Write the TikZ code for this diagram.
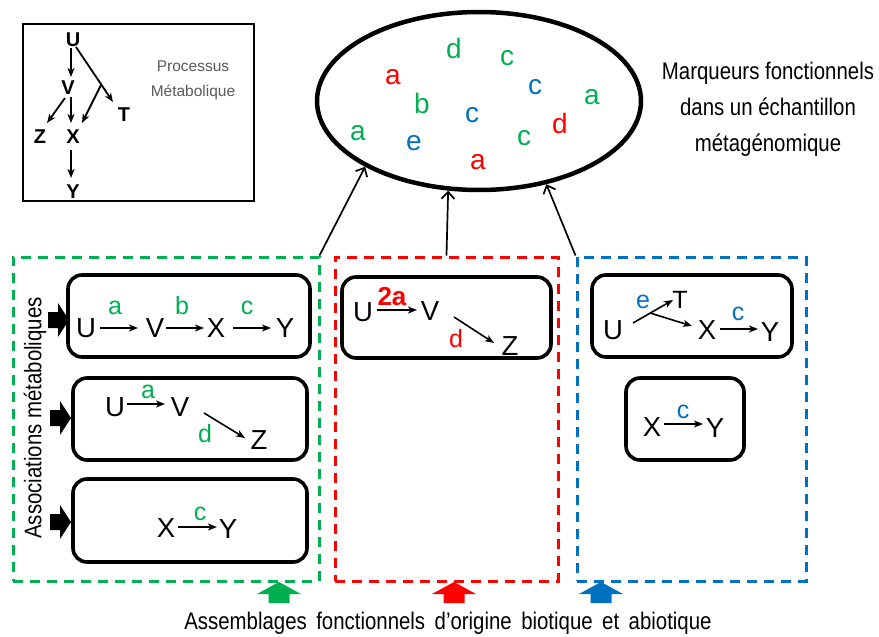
\documentclass[tikz,border=0pt]{standalone}
\usepackage{fontspec}
\setmainfont{Liberation Sans}
\newfontfamily\narrow[FakeStretch=0.85]{Liberation Sans}
\usetikzlibrary{arrows.meta,calc,shapes.geometric}
\definecolor{mgreen}{RGB}{0,176,80}
\definecolor{mred}{RGB}{255,0,0}
\definecolor{mblue}{RGB}{0,112,192}
\begin{document}
\begin{tikzpicture}[x=1pt,y=-1pt,
 lt/.style={font=\fontsize{27.5}{30}\selectfont, inner sep=0pt},
 lb/.style={font=\fontsize{25}{27}\selectfont, inner sep=0pt},
 ml/.style={font=\fontsize{28}{30}\selectfont, inner sep=0pt},
 sg/.style={font=\bfseries\fontsize{20}{22}\selectfont, inner sep=0pt},
 arr/.style={line width=1.6pt, -{Stealth[length=9pt,width=7pt,inset=2.5pt]}},
 sarr/.style={line width=1.8pt, -{Stealth[length=9pt,width=7pt,inset=2.5pt]}},
 barb/.style={line width=1.7pt, -{Straight Barb[length=7pt,width=13pt]}},
 rbox/.style={draw, line width=3.6pt, rounded corners=14pt, inner sep=0pt},
 dbox/.style={line width=3pt, dash pattern=on 10pt off 7pt, inner sep=0pt},
]
\useasboundingbox (0,0) rectangle (879,637);

% ---- metabolic process inset
\node[draw, line width=1.8pt, minimum width=231pt, minimum height=177pt, inner sep=0pt] (pbox) at (138.5,112.5) {};
\node[sg] (sU) at (73,40) {U};
\node[sg] (sV) at (68,88) {V};
\node[sg] (sZ) at (40,137) {Z};
\node[sg] (sX) at (73,137) {X};
\node[sg] (sT) at (124,115) {T};
\node[sg] (sY) at (73,192) {Y};
\coordinate (sB) at (101,85);
\draw[sarr] ([shift={(-2,8)}]sU.center) -- ([shift={(3,-11)}]sV.center);
\draw[sarr] ([shift={(3,7)}]sU.center) -- ([shift={(-11,-13)}]sT.center);
\draw[sarr] (sB) -- ([shift={(9,-14)}]sX.center);
\draw[sarr] ([shift={(-3,10)}]sV.center) -- ([shift={(7,-14)}]sZ.center);
\draw[sarr] ([shift={(3,9)}]sV.center) -- ([shift={(-2,-14)}]sX.center);
\draw[sarr] ([shift={(-2,13)}]sX.center) -- ([shift={(-2,-14)}]sY.center);
\node[font=\fontsize{15.5}{25}\selectfont, text=black!65, align=center] (proc) at (193,80.5) {Processus\\Métabolique};

% ---- sample ellipse
\node[draw, ellipse, line width=4.5pt, minimum width=324pt, minimum height=178pt, inner sep=0pt] (ell) at (479,101) {};
\node[ml, text=mgreen] (e1) at (454,48) {d};
\node[ml, text=mgreen] (e2) at (507,58) {c};
\node[ml, text=mred] (e3) at (393,77) {a};
\node[ml, text=mblue] (e4) at (535,87) {c};
\node[ml, text=mgreen] (e5) at (592,97) {a};
\node[ml, text=mgreen] (e6) at (422,103) {b};
\node[ml, text=mblue] (e7) at (472,115) {c};
\node[ml, text=mred] (e8) at (560,123) {d};
\node[ml, text=mgreen] (e9) at (358,133) {a};
\node[ml, text=mblue] (e10) at (414,143) {e};
\node[ml, text=mgreen] (e11) at (524,138) {c};
\node[ml, text=mred] (e12) at (478,162) {a};
\node[font=\narrow\fontsize{24}{36}\selectfont, align=center, inner sep=0pt] (mq) at (768,109) {Marqueurs fonctionnels\\dans un échantillon\\métagénomique};

% ---- dashed assemblages
\node[draw=mgreen, dbox, minimum width=306pt, minimum height=324pt] (gbox) at (166,419) {};
\node[draw=mred, dbox, minimum width=223pt, minimum height=324pt] (rbx) at (446.5,419) {};
\node[draw=mblue, dbox, minimum width=229pt, minimum height=324pt] (bbx) at (691.5,419) {};

\draw[barb] ([xshift=-1pt]gbox.north east) -- (ell.210);
\draw[barb] (rbx.north) -- (ell.251);
\draw[barb] (bbx.north west) -- (ell.309);

% ---- green associations
\node[rbox, minimum width=242pt, minimum height=82pt] (g1) at (189,316) {};
\node[rbox, minimum width=234pt, minimum height=82pt] (g2) at (190,419) {};
\node[rbox, minimum width=234pt, minimum height=83pt] (g3) at (190,520.5) {};

\node[lt] (g1U) at (86,328) {U};
\node[lt] (g1V) at (155,328) {V};
\node[lt] (g1X) at (216,328) {X};
\node[lt] (g1Y) at (285,328) {Y};
\node[lb, text=mgreen] (g1a) at (115,308) {a};
\node[lb, text=mgreen] (g1b) at (182,306) {b};
\node[lb, text=mgreen] (g1c) at (247,308) {c};
\draw[arr] ([xshift=14pt]g1U.center) -- ([xshift=-17pt]g1V.center);
\draw[arr] ([xshift=11pt]g1V.center) -- ([xshift=-12pt]g1X.center);
\draw[arr] ([xshift=17pt]g1X.center) -- ([xshift=-14pt]g1Y.center);

\node[lt] (g2U) at (115,407) {U};
\node[lt] (g2V) at (180,407) {V};
\node[lt] (g2Z) at (259,440) {Z};
\node[lb, text=mgreen] (g2a) at (148,392) {a};
\node[lb, text=mgreen] (g2d) at (205,434) {d};
\draw[arr] ([shift={(12,-3)}]g2U.center) -- ([shift={(-15,-3)}]g2V.center);
\draw[arr] ([shift={(24,6)}]g2V.center) -- ([shift={(-14,-2)}]g2Z.center);

\node[lt] (g3X) at (166,528) {X};
\node[lt] (g3Y) at (228,529) {Y};
\node[lb, text=mgreen] (g3c) at (200,514) {c};
\draw[arr] ([shift={(12,-1)}]g3X.center) -- ([shift={(-11,-2)}]g3Y.center);

\fill (48,312) -- (58,312) -- (58,303) -- (69,320) -- (58,337) -- (58,328) -- (48,328) -- cycle;
\fill (50,410) -- (60,410) -- (60,401) -- (71,418) -- (60,435) -- (60,426) -- (50,426) -- cycle;
\fill (50,514) -- (60,514) -- (60,505) -- (71,522) -- (60,539) -- (60,530) -- (50,530) -- cycle;
\node[rotate=90, font=\narrow\fontsize{24}{26}\selectfont, inner sep=0pt] (assoc) at (35,418) {Associations métaboliques};

% ---- red association
\node[rbox, minimum width=209pt, minimum height=81pt] (r1) at (446.5,317.5) {};
\node[lt] (rU) at (363,312) {U};
\node[lt] (rV) at (430,311) {V};
\node[lt] (rZ) at (510,346) {Z};
\node[lb, text=mred, font=\bfseries\fontsize{26}{28}\selectfont] (r2a) at (392,297) {2a};
\node[lb, text=mred] (rd) at (456,339) {d};
\draw[arr] ([shift={(14,-2)}]rU.center) -- ([shift={(-13,-1)}]rV.center);
\draw[arr] ([shift={(24,6)}]rV.center) -- ([shift={(-16,-3)}]rZ.center);

% ---- blue associations
\node[rbox, minimum width=200pt, minimum height=82pt] (b1) at (692,316) {};
\node[rbox, minimum width=118pt, minimum height=82pt] (b2) at (685,419) {};
\node[lt] (bU) at (613,330) {U};
\node[lt, font=\fontsize{25}{27}\selectfont] (bT) at (680,300) {T};
\node[lt] (bX) at (707,330) {X};
\node[lt] (bY) at (770,332) {Y};
\node[lb, text=mblue] (be) at (643,302) {e};
\node[lb, text=mblue] (bc) at (738,314) {c};
\coordinate (bB) at (650,313);
\draw[arr] ([shift={(20,-7)}]bU.center) -- ([shift={(-7,0)}]bT.center);
\draw[arr] (bB) -- ([shift={(-15,-4)}]bX.center);
\draw[arr] ([shift={(13,-1)}]bX.center) -- ([shift={(-12,-3)}]bY.center);

\node[lt] (b2X) at (652,427) {X};
\node[lt] (b2Y) at (715,428) {Y};
\node[lb, text=mblue] (b2c) at (683,412) {c};
\draw[arr] ([shift={(12,-3)}]b2X.center) -- ([shift={(-12,-4)}]b2Y.center);

% ---- upward coloured arrows
\fill[mgreen] (279,582) -- (301,594) -- (289.5,594) -- (289.5,603) -- (268.5,603) -- (268.5,594) -- (257,594) -- cycle;
\fill[mred] (454,582) -- (476,594) -- (464.5,594) -- (464.5,603) -- (443.5,603) -- (443.5,594) -- (432,594) -- cycle;
\fill[mblue] (601,582) -- (623,594) -- (611.5,594) -- (611.5,603) -- (590.5,603) -- (590.5,594) -- (579,594) -- cycle;
\node[font=\narrow\fontsize{24}{26}\selectfont, inner sep=0pt] (assem) at (448,623) {\spaceskip=9.5pt Assemblages fonctionnels d’origine biotique et abiotique};
\end{tikzpicture}
\end{document}
